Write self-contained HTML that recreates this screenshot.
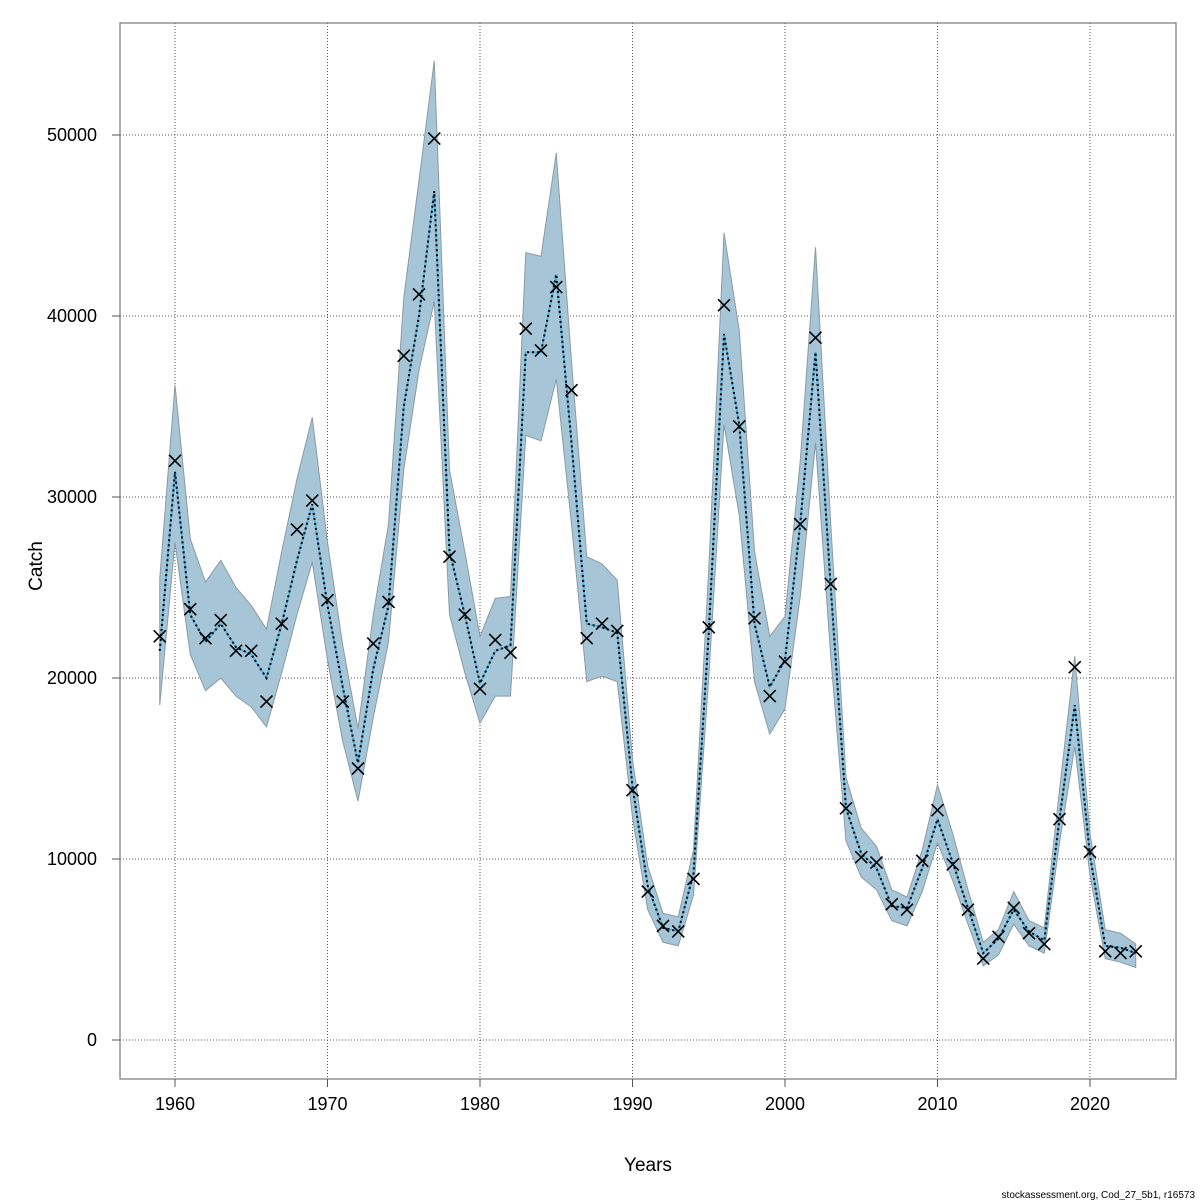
<!DOCTYPE html>
<html><head><meta charset="utf-8"><style>
body{margin:0;background:#fff;}
svg{display:block;font-family:"Liberation Sans",sans-serif;}
</style></head><body>
<svg id="chart" width="1200" height="1200">
<rect x="0" y="0" width="1200" height="1200" fill="#fff"/>
<g id="grid"></g>
<g id="band"></g>
<g id="line"></g>
<g id="obs"></g>
<rect x="120" y="23" width="1056" height="1056" fill="none" stroke="#777" stroke-width="1.2"/>
<g id="axes"></g>
<text x="648" y="1171" font-size="19" text-anchor="middle">Years</text>
<text transform="translate(42,566) rotate(-90)" font-size="19" text-anchor="middle">Catch</text>
<text x="1195" y="1198" font-size="10" text-anchor="end">stockassessment.org, Cod_27_5b1, r16573</text>
</svg>
<script>
const years=[1959,1960,1961,1962,1963,1964,1965,1966,1967,1968,1969,1970,1971,1972,1973,1974,1975,1976,1977,1978,1979,1980,1981,1982,1983,1984,1985,1986,1987,1988,1989,1990,1991,1992,1993,1994,1995,1996,1997,1998,1999,2000,2001,2002,2003,2004,2005,2006,2007,2008,2009,2010,2011,2012,2013,2014,2015,2016,2017,2018,2019,2020,2021,2022,2023];
const observed=[22300,32000,23800,22200,23200,21500,21500,18700,23000,28200,29800,24300,18700,15000,21900,24200,37800,41200,49800,26700,23500,19400,22100,21400,39300,38100,41600,35900,22200,23000,22600,13800,8200,6300,6000,8900,22800,40600,33900,23300,19000,20900,28500,38800,25200,12800,10100,9800,7500,7200,9900,12700,9700,7200,4500,5700,7300,5900,5300,12200,20600,10400,4900,4800,4900];
const estimate=[21500,31400,23500,22000,23000,21700,21300,20000,23000,26500,29600,24000,19500,15300,20500,24000,35000,40000,46900,27000,23500,19700,21500,21800,38000,38000,42300,33000,23000,22800,22500,14000,8500,6200,6000,9200,22500,39000,34000,23000,19500,21000,28500,38000,25000,12800,10300,9500,7400,7300,9500,12200,9800,7300,4800,5600,7200,6000,5500,12200,18500,10200,5200,5100,4800];
const upper=[25500,36200,27700,25300,26500,25000,24000,22700,27000,31000,34400,27500,21800,17200,23500,28500,41000,47500,54100,31500,27000,22300,24400,24500,43500,43300,49000,37500,26700,26300,25400,15500,9600,7000,6800,10500,26000,44600,39200,27000,22300,23400,32000,43800,28500,14500,11700,10700,8300,7900,10500,14100,11400,8300,5400,6100,8200,6600,6200,13800,21200,11400,6100,5900,5300];
const lower=[18500,27500,21300,19300,20000,19000,18400,17300,20300,23500,26400,21000,16500,13200,17800,22000,31500,37000,40800,23500,20300,17500,19000,19000,33400,33100,36500,28500,19800,20100,19800,12300,7200,5400,5200,8000,20000,34000,29000,19800,16900,18300,24500,33000,21200,11000,9000,8300,6600,6300,8200,10900,8800,6400,4100,4700,6400,5200,4800,10900,16200,9100,4500,4300,4000];
const xTicks=[1960,1970,1980,1990,2000,2010,2020];
const yTicks=[0,10000,20000,30000,40000,50000];

const X=y=>175+(y-1960)*15.25;
const Y=v=>1040-v*0.0181;
const NS="http://www.w3.org/2000/svg";
function mk(tag,attrs,parent){const e=document.createElementNS(NS,tag);for(const k in attrs)e.setAttribute(k,attrs[k]);parent.appendChild(e);return e;}
const grid=document.getElementById('grid'),axes=document.getElementById('axes');
xTicks.forEach(t=>{
  const g=mk('line',{x1:X(t),x2:X(t),y1:23,y2:1079,stroke:'#555','stroke-width':1,'stroke-dasharray':'1,2'},grid);
  
  
  const tk=mk('line',{x1:X(t),x2:X(t),y1:1079,y2:1087,stroke:'#555','stroke-width':1},axes);
  
  
  const l=mk('text',{x:X(t),y:1110,'font-size':18,'text-anchor':'middle'},axes);l.textContent=t;
  
  
});
yTicks.forEach(t=>{
  const g=mk('line',{x1:120,x2:1176,y1:Y(t),y2:Y(t),stroke:'#555','stroke-width':1,'stroke-dasharray':'1,2'},grid);
  
  
  const tk=mk('line',{x1:112,x2:120,y1:Y(t),y2:Y(t),stroke:'#555','stroke-width':1},axes);
  
  
  const l=mk('text',{x:97,y:Y(t)+6,'font-size':18,'text-anchor':'end'},axes);l.textContent=t;
  
  
});
let pts=years.map((y,i)=>X(y)+','+Y(upper[i]));
for(let i=years.length-1;i>=0;i--)pts.push(X(years[i])+','+Y(lower[i]));
const poly=mk('polygon',{points:pts.join(' '),fill:'#a6c6d7',stroke:'#8a9aa4','stroke-width':1},document.getElementById('band'));


const lp=years.map((y,i)=>X(y)+','+Y(estimate[i])).join(' ');
const l1=mk('polyline',{points:lp,fill:'none',stroke:'#5ab4e0','stroke-width':2},document.getElementById('line'));


const l2=mk('polyline',{points:lp,fill:'none',stroke:'#000','stroke-width':2,'stroke-dasharray':'2,3'},document.getElementById('line'));


const og=document.getElementById('obs');
years.forEach((y,i)=>{
  const cx=X(y),cy=Y(observed[i]),s=6;
  const p=mk('path',{d:`M${cx-s},${cy-s}L${cx+s},${cy+s}M${cx-s},${cy+s}L${cx+s},${cy-s}`,stroke:'#000','stroke-width':1.6,fill:'none'},og);
  
  
});
</script>
</body></html>
